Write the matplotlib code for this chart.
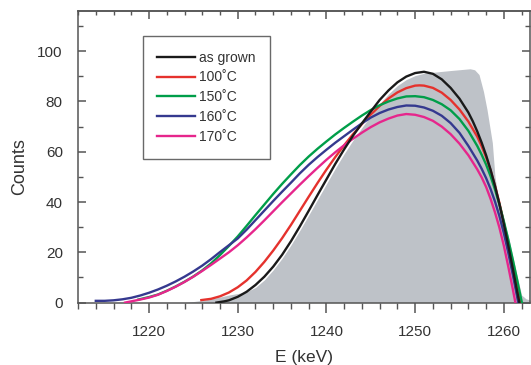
import matplotlib.pyplot as plt
from matplotlib.ticker import MultipleLocator

plt.rcParams['font.family'] = ['Liberation Sans', 'DejaVu Sans']

# measured spectrum (grey area)
gray_E = [1224.0, 1225.0, 1226.0, 1227.0, 1228.0, 1229.0, 1230.0, 1231.0, 1232.0,
          1233.0, 1234.0, 1235.0, 1236.0, 1237.0, 1238.0, 1239.0, 1240.0, 1241.0,
          1242.0, 1243.0, 1244.0, 1245.0, 1246.0, 1247.0, 1248.0, 1249.0, 1250.0,
          1251.0, 1252.0, 1254.0, 1256.2, 1256.7, 1257.2, 1257.7, 1258.1, 1258.7,
          1259.0, 1259.3, 1259.7, 1260.2, 1260.5, 1261.0, 1261.5, 1262.0, 1262.5, 1263.0]
gray_y = [0, 0.4, 0.9, 1.5, 2.2, 3.0, 3.6, 4.3, 6.0,
          9.0, 13.0, 17.6, 22.9, 28.7, 34.8, 41.0, 47.2, 53.4,
          59.2, 64.6, 69.6, 74.4, 79.0, 83.0, 86.3, 88.7, 90.3,
          91.2, 91.6, 92.3, 93.0, 92.6, 90.7, 84.0, 76.8, 63.6,
          50.0, 43.0, 37.5, 30.0, 26.5, 18.5, 10.5, 3.0, 1.5, 1.0]

# as grown
black_E = [1227.6, 1228.5, 1229.0, 1230.0, 1231.0, 1232.0, 1233.0, 1234.0, 1235.0,
           1236.0, 1237.0, 1238.0, 1239.0, 1240.0, 1241.0, 1242.0, 1243.0, 1244.0,
           1245.0, 1246.0, 1247.0, 1248.0, 1249.0, 1250.0, 1251.0, 1252.0, 1253.0,
           1254.0, 1255.0, 1256.0, 1256.5, 1257.0, 1257.5, 1258.0, 1258.5, 1259.0,
           1259.5, 1260.0, 1260.5, 1261.0, 1261.5, 1261.75]
black_y = [0, 0.5, 0.9, 2.3, 4.3, 7.0, 10.3, 14.3, 19.0,
           24.4, 30.3, 36.5, 42.8, 49.0, 55.2, 61.0, 66.4, 71.3,
           76.0, 80.6, 84.4, 87.6, 89.9, 91.3, 91.8, 91.0, 88.8,
           85.4, 81.1, 75.6, 72.1, 68.1, 63.6, 58.6, 52.9, 46.4,
           39.2, 31.2, 22.7, 13.7, 4.4, 0]

# 100 C
red_E = [1225.9, 1227.0, 1228.0, 1229.0, 1230.0, 1231.0, 1232.0, 1233.0, 1234.0,
         1235.0, 1236.0, 1237.0, 1238.0, 1239.0, 1240.0, 1241.0, 1242.0, 1243.0,
         1244.0, 1245.0, 1246.0, 1247.0, 1248.0, 1249.0, 1250.0, 1250.5, 1251.0,
         1252.0, 1253.0, 1254.0, 1255.0, 1256.0, 1257.0, 1257.5, 1258.0, 1258.5,
         1259.0, 1259.5, 1260.0, 1260.5, 1261.0, 1261.5, 1261.85]
red_y = [1.0, 1.5, 2.5, 4.0, 6.1, 8.8, 12.2, 16.2, 20.7,
         25.6, 30.9, 36.5, 42.1, 47.6, 52.9, 57.9, 62.6, 67.0,
         71.0, 74.8, 78.2, 81.2, 83.6, 85.3, 86.3, 86.4, 86.3,
         85.4, 83.5, 80.6, 76.8, 72.0, 66.0, 62.2, 57.8, 52.6,
         46.5, 39.6, 31.8, 23.2, 14.2, 5.0, 0]

# 150 C
green_E = [1218.8, 1220.0, 1221.0, 1222.0, 1223.0, 1224.0, 1225.0, 1226.0, 1227.0,
           1228.0, 1229.0, 1230.0, 1231.0, 1232.0, 1233.0, 1234.0, 1235.0, 1236.0,
           1237.0, 1238.0, 1239.0, 1240.0, 1241.0, 1242.0, 1243.0, 1244.0, 1245.0,
           1246.0, 1247.0, 1248.0, 1249.0, 1250.0, 1251.0, 1252.0, 1253.0, 1254.0,
           1255.0, 1256.0, 1257.0, 1257.5, 1258.0, 1258.5, 1259.0, 1259.5, 1260.0,
           1260.5, 1261.0, 1261.5, 1262.03]
green_y = [1.2, 2.2, 3.2, 4.7, 6.4, 8.3, 10.4, 12.8, 15.6,
           18.9, 22.5, 26.3, 30.5, 34.8, 39.0, 43.2, 47.2, 51.0,
           54.7, 58.1, 61.2, 64.1, 66.9, 69.5, 72.0, 74.4, 76.6,
           78.5, 80.0, 81.2, 82.0, 82.1, 81.7, 80.6, 78.9, 76.5,
           73.0, 68.3, 62.3, 58.8, 54.9, 50.3, 45.0, 39.0, 32.3,
           25.0, 17.2, 9.0, 0]

# 160 C
blue_E = [1214.0, 1215.0, 1216.0, 1217.0, 1218.0, 1219.0, 1220.0, 1221.0, 1222.0,
          1223.0, 1224.0, 1225.0, 1226.0, 1227.0, 1228.0, 1229.0, 1230.0, 1231.0,
          1232.0, 1233.0, 1234.0, 1235.0, 1236.0, 1237.0, 1238.0, 1239.0, 1240.0,
          1241.0, 1242.0, 1243.0, 1244.0, 1245.0, 1246.0, 1247.0, 1248.0, 1249.0,
          1250.0, 1251.0, 1252.0, 1253.0, 1254.0, 1255.0, 1256.0, 1257.0, 1257.5,
          1258.0, 1258.5, 1259.0, 1259.5, 1260.0, 1260.5, 1261.0, 1261.5, 1261.62]
blue_y = [0.7, 0.7, 0.9, 1.3, 1.9, 2.8, 3.9, 5.2, 6.7,
          8.4, 10.3, 12.4, 14.7, 17.3, 20.1, 22.8, 25.5, 29.0,
          32.8, 36.6, 40.4, 44.1, 47.7, 51.4, 54.8, 57.9, 60.8,
          63.6, 66.2, 68.8, 71.3, 73.6, 75.4, 76.8, 77.8, 78.4,
          78.3, 77.6, 76.3, 74.3, 71.4, 67.5, 62.3, 56.5, 53.2,
          49.5, 45.2, 40.2, 34.4, 27.6, 19.8, 11.2, 2.2, 0]

# 170 C
pink_E = [1217.3, 1218.0, 1219.0, 1220.0, 1221.0, 1222.0, 1223.0, 1224.0, 1225.0,
          1226.0, 1227.0, 1228.0, 1229.0, 1230.0, 1231.0, 1232.0, 1233.0, 1234.0,
          1235.0, 1236.0, 1237.0, 1238.0, 1239.0, 1240.0, 1241.0, 1242.0, 1243.0,
          1244.0, 1245.0, 1246.0, 1247.0, 1248.0, 1249.0, 1250.0, 1251.0, 1252.0,
          1253.0, 1254.0, 1255.0, 1256.0, 1257.0, 1257.5, 1258.0, 1258.5, 1259.0,
          1259.5, 1260.0, 1260.5, 1261.0, 1261.3]
pink_y = [0, 0.5, 1.2, 2.0, 3.1, 4.6, 6.3, 8.2, 10.3,
          12.6, 15.0, 17.5, 20.0, 22.8, 25.9, 29.2, 32.7, 36.3,
          39.9, 43.4, 46.9, 50.3, 53.6, 56.8, 59.8, 62.6, 65.2,
          67.6, 69.8, 71.7, 73.2, 74.4, 75.0, 74.7, 73.8, 72.3,
          70.0, 67.0, 63.2, 58.6, 53.0, 49.8, 46.0, 41.3, 35.9,
          29.8, 22.6, 14.3, 5.5, 0]

fig = plt.figure(figsize=(5.31, 3.65), dpi=100)
ax = fig.add_axes([0.147, 0.171, 0.852, 0.799])

ax.fill_between(gray_E, gray_y, 0, color='#bec2c8', lw=0)

lw = 1.7
ax.plot(red_E, red_y, color='#e5322d', lw=lw, label='100\u02daC', zorder=3)
ax.plot(green_E, green_y, color='#009e49', lw=lw, label='150\u02daC', zorder=3)
ax.plot(blue_E, blue_y, color='#35398f', lw=lw, label='160\u02daC', zorder=3)
ax.plot(pink_E, pink_y, color='#e6268c', lw=lw, label='170\u02daC', zorder=3)
ax.plot(black_E, black_y, color='#1a1a1a', lw=lw, label='as grown', zorder=4)

ax.set_xlim(1212, 1263)
ax.set_ylim(0, 116)
ax.xaxis.set_major_locator(MultipleLocator(10))
ax.xaxis.set_minor_locator(MultipleLocator(2))
ax.yaxis.set_major_locator(MultipleLocator(20))
ax.yaxis.set_minor_locator(MultipleLocator(10))

for s in ax.spines.values():
    s.set_color('#555555')
    s.set_linewidth(1.1)

ax.tick_params(axis='x', which='both', direction='out', bottom=True, top=False,
               colors='#555555', labelcolor='#333333', labelsize=11, pad=9)
ax.tick_params(axis='x', which='major', length=7, width=1.1)
ax.tick_params(axis='x', which='minor', length=4, width=1.0)
ax.tick_params(axis='y', which='both', direction='in', left=True, right=True,
               colors='#555555', labelcolor='#333333', labelsize=11, pad=11)
ax.tick_params(axis='y', which='major', length=6, width=1.1)
ax.tick_params(axis='y', which='minor', length=3.5, width=1.0)

# top axis ticks pointing inward
top = ax.secondary_xaxis('top')
top.xaxis.set_major_locator(MultipleLocator(10))
top.xaxis.set_minor_locator(MultipleLocator(2))
top.tick_params(which='both', direction='in', labeltop=False, colors='#555555')
top.tick_params(which='major', length=6, width=1.1)
top.tick_params(which='minor', length=3, width=1.0)
top.spines['top'].set_color('#555555')
top.spines['top'].set_linewidth(1.1)

ax.set_xlabel('E (keV)', fontsize=12.5, color='#333333')
ax.set_ylabel('Counts', fontsize=13, color='#333333')
ax.yaxis.set_label_coords(-0.11, 0.465)
ax.xaxis.set_label_coords(0.5, -0.161)

handles, labels = ax.get_legend_handles_labels()
order = [4, 0, 1, 2, 3]
leg = ax.legend([handles[i] for i in order], [labels[i] for i in order],
                loc='upper left', bbox_to_anchor=(0.143, 0.914), borderaxespad=0,
                fontsize=10, frameon=True, fancybox=False, handlelength=2.7,
                handletextpad=0.3, labelspacing=0.42, borderpad=1.05)
leg.get_frame().set_edgecolor('#444444')
leg.get_frame().set_linewidth(1.0)
for t in leg.get_texts():
    t.set_color('#333333')

plt.savefig('out.png', dpi=100)
